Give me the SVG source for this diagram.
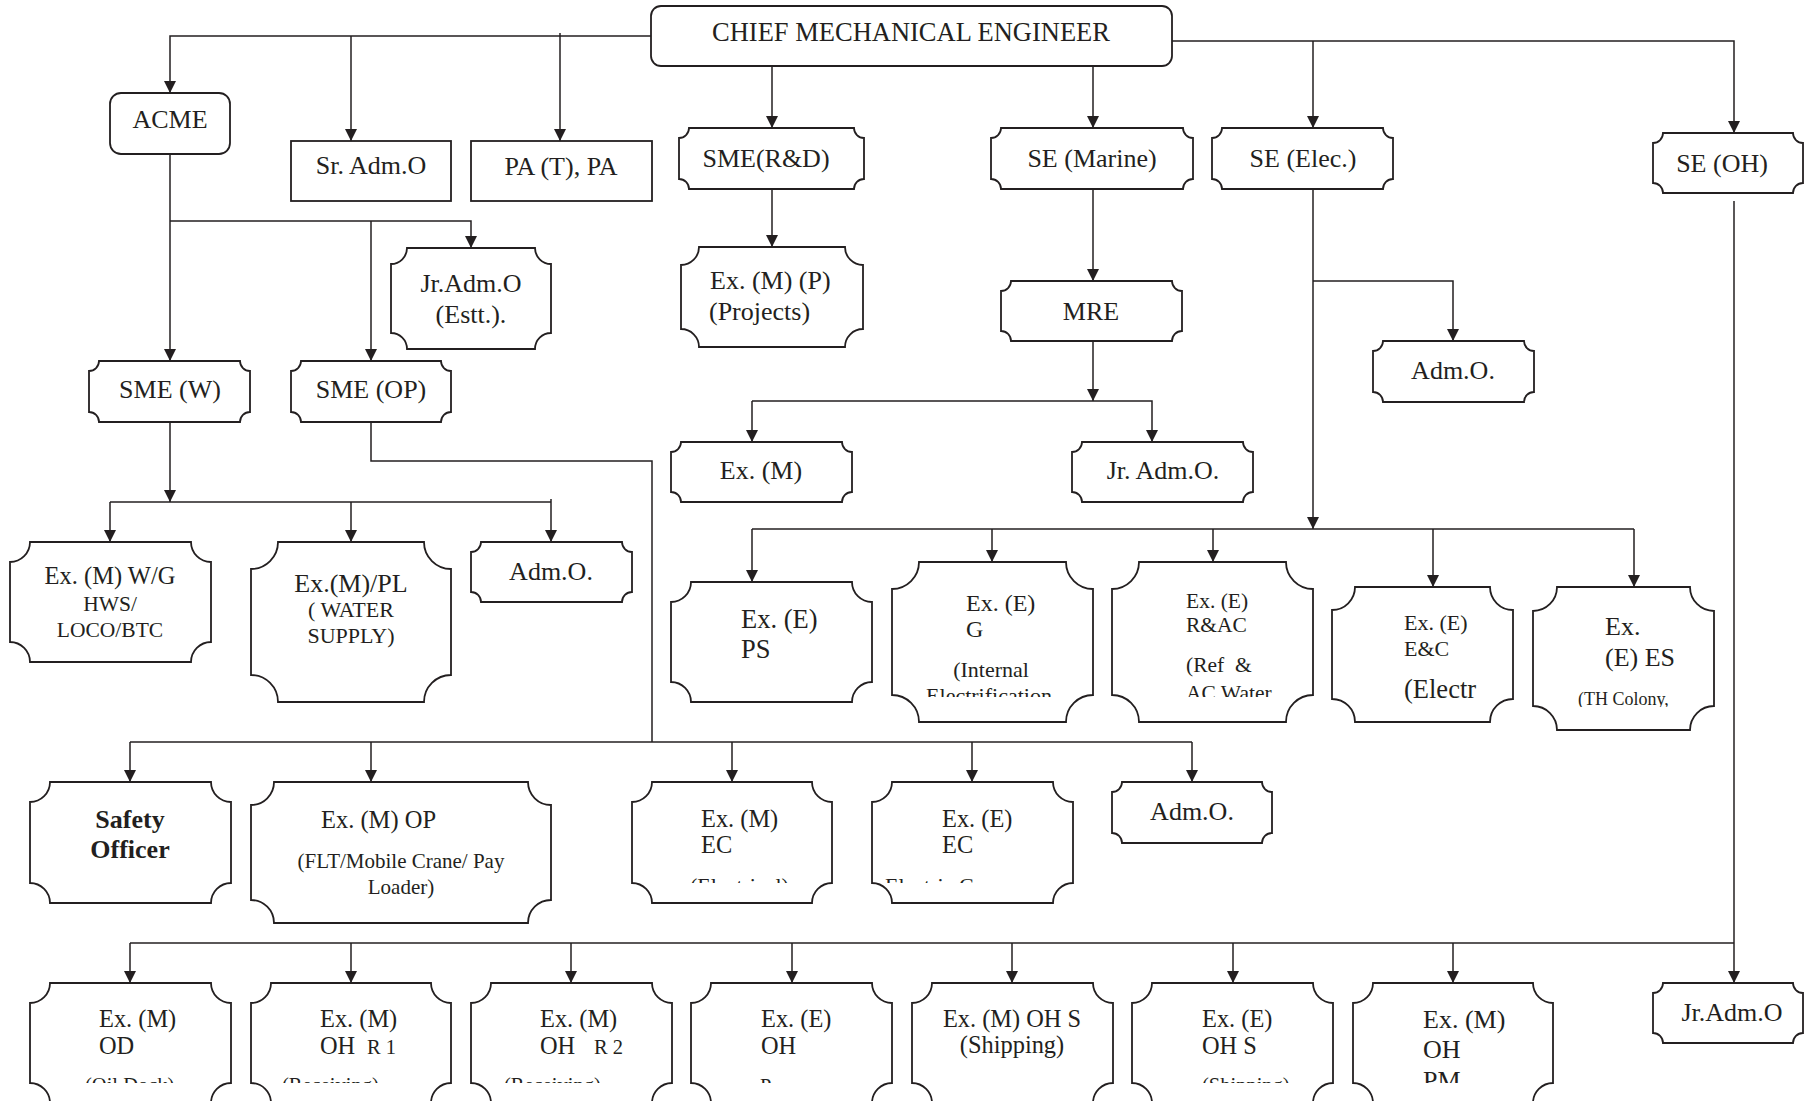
<svg xmlns="http://www.w3.org/2000/svg" width="1805" height="1101" viewBox="0 0 1805 1101">
<style>
.box{fill:#fff;stroke:#231f20;stroke-width:1.8}
.ln{fill:none;stroke:#231f20;stroke-width:1.5}
.ar{marker-end:url(#arr)}
text{font-family:"Liberation Serif","Times New Roman",serif;fill:#231f20;font-size:26px}
.m{text-anchor:middle}
.s24{font-size:24.4px}
.s22{font-size:22px}
.s21{font-size:21px}
.s20{font-size:20.5px}
.s18{font-size:18px}
.b{font-weight:bold}
</style>
<defs>
<marker id="arr" markerUnits="userSpaceOnUse" markerWidth="12" markerHeight="12" refX="12" refY="6" orient="auto">
<path d="M0,0 L12,6 L0,12 Z" fill="#231f20"/>
</marker>
<clipPath id="cG" clipPathUnits="userSpaceOnUse"><rect x="0" y="0" width="1805" height="697"/></clipPath>
<clipPath id="cES" clipPathUnits="userSpaceOnUse"><rect x="0" y="0" width="1805" height="707"/></clipPath>
<clipPath id="cEC" clipPathUnits="userSpaceOnUse"><rect x="0" y="0" width="1805" height="883"/></clipPath>
<clipPath id="cB" clipPathUnits="userSpaceOnUse"><rect x="0" y="0" width="1805" height="1083"/></clipPath>
</defs>
<rect x="0" y="0" width="1805" height="1101" fill="#fff"/>

<g id="connectors">
<path class="ln ar" d="M651,36 H170 V93"/>
<path class="ln ar" d="M351,36 V141"/>
<path class="ln ar" d="M560,33 V141"/>
<path class="ln ar" d="M772,66 V128"/>
<path class="ln ar" d="M1093,66 V128"/>
<path class="ln ar" d="M1172,41 H1734 V133"/>
<path class="ln ar" d="M1313,41 V128"/>
<path class="ln ar" d="M170,154 V361"/>
<path class="ln ar" d="M170,221 H471 V248"/>
<path class="ln ar" d="M371,221 V361"/>
<path class="ln ar" d="M772,189 V247"/>
<path class="ln ar" d="M1093,189 V281"/>
<path class="ln ar" d="M1093,341 V401"/>
<path class="ln ar" d="M752,401 V442"/>
<path class="ln ar" d="M752,401 H1152 V442"/>
<path class="ln ar" d="M1313,189 V529"/>
<path class="ln ar" d="M1313,281 H1453 V341"/>
<path class="ln" d="M752,529 H1634"/>
<path class="ln ar" d="M752,529 V582"/>
<path class="ln ar" d="M992,529 V562"/>
<path class="ln ar" d="M1213,529 V562"/>
<path class="ln ar" d="M1433,529 V587"/>
<path class="ln ar" d="M1634,529 V587"/>
<path class="ln ar" d="M170,422 V502"/>
<path class="ln" d="M110,502 H551"/>
<path class="ln ar" d="M110,502 V542"/>
<path class="ln ar" d="M351,502 V542"/>
<path class="ln ar" d="M551,499 V542"/>
<path class="ln" d="M371,422 V461 H652 V742"/>
<path class="ln" d="M130,742 H1192"/>
<path class="ln ar" d="M130,742 V782"/>
<path class="ln ar" d="M371,742 V782"/>
<path class="ln ar" d="M732,742 V782"/>
<path class="ln ar" d="M972,742 V782"/>
<path class="ln ar" d="M1192,742 V782"/>
<path class="ln ar" d="M1734,201 V983"/>
<path class="ln" d="M130,943 H1734"/>
<path class="ln ar" d="M130,943 V983"/>
<path class="ln ar" d="M351,943 V983"/>
<path class="ln ar" d="M571,943 V983"/>
<path class="ln ar" d="M792,943 V983"/>
<path class="ln ar" d="M1012,943 V983"/>
<path class="ln ar" d="M1233,943 V983"/>
<path class="ln ar" d="M1453,943 V983"/>
</g>

<g id="cme">
<rect class="box" x="651" y="6" width="521" height="60" rx="10"/>
<text class="m" x="911" y="41" style="font-size:26.5px">CHIEF MECHANICAL ENGINEER</text>
</g>
<g id="acme">
<rect class="box" x="110" y="93" width="120" height="61" rx="11"/>
<text class="m" x="170" y="128">ACME</text>
</g>
<g id="sr-adm-o">
<rect class="box" x="291" y="141" width="160" height="60"/>
<text class="m" x="371" y="174">Sr. Adm.O</text>
</g>
<g id="pa">
<rect class="box" x="471" y="141" width="181" height="60"/>
<text class="m" x="561" y="175">PA (T), PA</text>
</g>
<g id="sme-rd">
<path class="box" d="M689,128 H854 A10,10 0 0 0 864,138 V179 A10,10 0 0 0 854,189 H689 A10,10 0 0 0 679,179 V138 A10,10 0 0 0 689,128 Z"/>
<text class="m" x="766" y="167">SME(R&amp;D)</text>
</g>
<g id="se-marine">
<path class="box" d="M1001,128 H1183 A10,10 0 0 0 1193,138 V179 A10,10 0 0 0 1183,189 H1001 A10,10 0 0 0 991,179 V138 A10,10 0 0 0 1001,128 Z"/>
<text class="m" x="1092" y="167">SE (Marine)</text>
</g>
<g id="se-elec">
<path class="box" d="M1222,128 H1383 A10,10 0 0 0 1393,138 V179 A10,10 0 0 0 1383,189 H1222 A10,10 0 0 0 1212,179 V138 A10,10 0 0 0 1222,128 Z"/>
<text class="m" x="1303" y="167">SE (Elec.)</text>
</g>
<g id="se-oh">
<path class="box" d="M1663,133 H1793 A10,10 0 0 0 1803,143 V183 A10,10 0 0 0 1793,193 H1663 A10,10 0 0 0 1653,183 V143 A10,10 0 0 0 1663,133 Z"/>
<text class="m" x="1722" y="172">SE (OH)</text>
</g>
<g id="jr-adm-estt">
<path class="box" d="M407,248 H535 A16,16 0 0 0 551,264 V333 A16,16 0 0 0 535,349 H407 A16,16 0 0 0 391,333 V264 A16,16 0 0 0 407,248 Z"/>
<text class="m" x="471" y="292">Jr.Adm.O</text>
<text class="m" x="471" y="323">(Estt.).</text>
</g>
<g id="ex-m-p">
<path class="box" d="M699,247 H845 A18,18 0 0 0 863,265 V329 A18,18 0 0 0 845,347 H699 A18,18 0 0 0 681,329 V265 A18,18 0 0 0 699,247 Z"/>
<text x="710" y="289">Ex. (M) (P)</text>
<text x="709" y="320">(Projects)</text>
</g>
<g id="mre">
<path class="box" d="M1011,281 H1172 A10,10 0 0 0 1182,291 V331 A10,10 0 0 0 1172,341 H1011 A10,10 0 0 0 1001,331 V291 A10,10 0 0 0 1011,281 Z"/>
<text class="m" x="1091" y="320">MRE</text>
</g>
<g id="sme-w">
<path class="box" d="M99,361 H240 A10,10 0 0 0 250,371 V412 A10,10 0 0 0 240,422 H99 A10,10 0 0 0 89,412 V371 A10,10 0 0 0 99,361 Z"/>
<text class="m" x="170" y="398">SME (W)</text>
</g>
<g id="sme-op">
<path class="box" d="M301,361 H441 A10,10 0 0 0 451,371 V412 A10,10 0 0 0 441,422 H301 A10,10 0 0 0 291,412 V371 A10,10 0 0 0 301,361 Z"/>
<text class="m" x="371" y="398">SME (OP)</text>
</g>
<g id="adm-o-elec">
<path class="box" d="M1383,341 H1524 A10,10 0 0 0 1534,351 V392 A10,10 0 0 0 1524,402 H1383 A10,10 0 0 0 1373,392 V351 A10,10 0 0 0 1383,341 Z"/>
<text class="m" x="1453" y="379">Adm.O.</text>
</g>
<g id="ex-m-marine">
<path class="box" d="M681,442 H842 A10,10 0 0 0 852,452 V492 A10,10 0 0 0 842,502 H681 A10,10 0 0 0 671,492 V452 A10,10 0 0 0 681,442 Z"/>
<text class="m" x="761" y="479">Ex. (M)</text>
</g>
<g id="jr-adm-marine">
<path class="box" d="M1082,442 H1243 A10,10 0 0 0 1253,452 V492 A10,10 0 0 0 1243,502 H1082 A10,10 0 0 0 1072,492 V452 A10,10 0 0 0 1082,442 Z"/>
<text class="m" x="1163" y="479">Jr. Adm.O.</text>
</g>
<g id="ex-m-wg">
<path class="box" d="M30,542 H191 A20,20 0 0 0 211,562 V642 A20,20 0 0 0 191,662 H30 A20,20 0 0 0 10,642 V562 A20,20 0 0 0 30,542 Z"/>
<text class="m" x="110" y="584" style="font-size:24.5px">Ex. (M) W/G</text>
<text class="m" x="110" y="611" style="font-size:21.5px">HWS/</text>
<text class="m" x="110" y="637" style="font-size:21.5px">LOCO/BTC</text>
</g>
<g id="ex-m-pl">
<path class="box" d="M278,542 H424 A27,27 0 0 0 451,569 V675 A27,27 0 0 0 424,702 H278 A27,27 0 0 0 251,675 V569 A27,27 0 0 0 278,542 Z"/>
<text class="m" x="351" y="592">Ex.(M)/PL</text>
<text class="m s22" x="351" y="617">( WATER</text>
<text class="m s22" x="351" y="643">SUPPLY)</text>
</g>
<g id="adm-o-w">
<path class="box" d="M481,542 H622 A10,10 0 0 0 632,552 V592 A10,10 0 0 0 622,602 H481 A10,10 0 0 0 471,592 V552 A10,10 0 0 0 481,542 Z"/>
<text class="m" x="551" y="580">Adm.O.</text>
</g>
<g id="ex-e-ps">
<path class="box" d="M691,582 H852 A20,20 0 0 0 872,602 V682 A20,20 0 0 0 852,702 H691 A20,20 0 0 0 671,682 V602 A20,20 0 0 0 691,582 Z"/>
<text x="741" y="628" style="font-size:26.5px">Ex. (E)</text>
<text x="741" y="658" style="font-size:26.5px">PS</text>
</g>
<g id="ex-e-g">
<path class="box" d="M919,562 H1066 A27,27 0 0 0 1093,589 V695 A27,27 0 0 0 1066,722 H919 A27,27 0 0 0 892,695 V589 A27,27 0 0 0 919,562 Z"/>
<text x="966" y="611" style="font-size:24px">Ex. (E)</text>
<text x="966" y="637" style="font-size:24px">G</text>
<text class="m s22" x="991" y="677">(Internal</text>
<text class="m s22" x="989" y="703" clip-path="url(#cG)">Electrification</text>
</g>
<g id="ex-e-rac">
<path class="box" d="M1139,562 H1286 A27,27 0 0 0 1313,589 V695 A27,27 0 0 0 1286,722 H1139 A27,27 0 0 0 1112,695 V589 A27,27 0 0 0 1139,562 Z"/>
<text x="1186" y="608" style="font-size:21.5px">Ex. (E)</text>
<text x="1186" y="632" style="font-size:21.5px">R&amp;AC</text>
<text x="1186" y="672" style="font-size:21.5px">(Ref &#160;&amp;</text>
<text x="1186" y="700" style="font-size:21.5px" clip-path="url(#cG)">AC Water</text>
</g>
<g id="ex-e-ec-elec">
<path class="box" d="M1355,587 H1490 A23,23 0 0 0 1513,610 V699 A23,23 0 0 0 1490,722 H1355 A23,23 0 0 0 1332,699 V610 A23,23 0 0 0 1355,587 Z"/>
<text class="s22" x="1404" y="630">Ex. (E)</text>
<text class="s22" x="1404" y="656">E&amp;C</text>
<text x="1404" y="698" style="font-size:26.5px">(Electr</text>
</g>
<g id="ex-e-es">
<path class="box" d="M1557,587 H1690 A24,24 0 0 0 1714,611 V706 A24,24 0 0 0 1690,730 H1557 A24,24 0 0 0 1533,706 V611 A24,24 0 0 0 1557,587 Z"/>
<text x="1605" y="635">Ex.</text>
<text x="1605" y="666">(E) ES</text>
<text class="s18" x="1578" y="705" clip-path="url(#cES)">(TH Colony,</text>
</g>
<g id="safety-officer">
<path class="box" d="M50,782 H211 A20,20 0 0 0 231,802 V883 A20,20 0 0 0 211,903 H50 A20,20 0 0 0 30,883 V802 A20,20 0 0 0 50,782 Z"/>
<text class="m b" x="130" y="828">Safety</text>
<text class="m b" x="130" y="858">Officer</text>
</g>
<g id="ex-m-op">
<path class="box" d="M274,782 H528 A23,23 0 0 0 551,805 V900 A23,23 0 0 0 528,923 H274 A23,23 0 0 0 251,900 V805 A23,23 0 0 0 274,782 Z"/>
<text x="321" y="828" style="font-size:24.5px">Ex. (M) OP</text>
<text class="m s21" x="401" y="868">(FLT/Mobile Crane/ Pay</text>
<text class="m s21" x="401" y="894">Loader)</text>
</g>
<g id="ex-m-ec">
<path class="box" d="M652,782 H812 A20,20 0 0 0 832,802 V883 A20,20 0 0 0 812,903 H652 A20,20 0 0 0 632,883 V802 A20,20 0 0 0 652,782 Z"/>
<text class="s24" x="701" y="827">Ex. (M)</text>
<text class="s24" x="701" y="853">EC</text>
<text class="s22" x="690" y="893" clip-path="url(#cEC)">(Electrical)</text>
</g>
<g id="ex-e-ec">
<path class="box" d="M892,782 H1053 A20,20 0 0 0 1073,802 V883 A20,20 0 0 0 1053,903 H892 A20,20 0 0 0 872,883 V802 A20,20 0 0 0 892,782 Z"/>
<text class="s24" x="942" y="827">Ex. (E)</text>
<text class="s24" x="942" y="853">EC</text>
<text class="s22" x="885" y="893" clip-path="url(#cEC)">Electric Cranes</text>
</g>
<g id="adm-o-op">
<path class="box" d="M1122,782 H1262 A10,10 0 0 0 1272,792 V833 A10,10 0 0 0 1262,843 H1122 A10,10 0 0 0 1112,833 V792 A10,10 0 0 0 1122,782 Z"/>
<text class="m" x="1192" y="820">Adm.O.</text>
</g>
<g id="ex-m-od">
<path class="box" d="M50,983 H211 A20,20 0 0 0 231,1003 V1083 A20,20 0 0 0 211,1103 H50 A20,20 0 0 0 30,1083 V1003 A20,20 0 0 0 50,983 Z"/>
<text class="s24" x="99" y="1027">Ex. (M)</text>
<text class="s24" x="99" y="1054">OD</text>
<text class="s20" x="85" y="1092" clip-path="url(#cB)">(Oil Dock)</text>
</g>
<g id="ex-m-oh-r1">
<path class="box" d="M271,983 H431 A20,20 0 0 0 451,1003 V1083 A20,20 0 0 0 431,1103 H271 A20,20 0 0 0 251,1083 V1003 A20,20 0 0 0 271,983 Z"/>
<text class="s24" x="320" y="1027">Ex. (M)</text>
<text class="s24" x="320" y="1054">OH</text>
<text class="s20" x="367" y="1054">R 1</text>
<text class="s20" x="282" y="1092" clip-path="url(#cB)">(Receiving)</text>
</g>
<g id="ex-m-oh-r2">
<path class="box" d="M491,983 H652 A20,20 0 0 0 672,1003 V1083 A20,20 0 0 0 652,1103 H491 A20,20 0 0 0 471,1083 V1003 A20,20 0 0 0 491,983 Z"/>
<text class="s24" x="540" y="1027">Ex. (M)</text>
<text class="s24" x="540" y="1054">OH</text>
<text class="s20" x="594" y="1054">R 2</text>
<text class="s20" x="504" y="1092" clip-path="url(#cB)">(Receiving)</text>
</g>
<g id="ex-e-oh">
<path class="box" d="M711,983 H872 A20,20 0 0 0 892,1003 V1083 A20,20 0 0 0 872,1103 H711 A20,20 0 0 0 691,1083 V1003 A20,20 0 0 0 711,983 Z"/>
<text class="s24" x="761" y="1027">Ex. (E)</text>
<text class="s24" x="761" y="1054">OH</text>
<text class="s20" x="760" y="1093" clip-path="url(#cB)">Power</text>
</g>
<g id="ex-m-oh-s">
<path class="box" d="M932,983 H1093 A20,20 0 0 0 1113,1003 V1083 A20,20 0 0 0 1093,1103 H932 A20,20 0 0 0 912,1083 V1003 A20,20 0 0 0 932,983 Z"/>
<text class="m s24" x="1012" y="1027">Ex. (M) OH S</text>
<text class="m s24" x="1012" y="1053">(Shipping)</text>
</g>
<g id="ex-e-oh-s">
<path class="box" d="M1152,983 H1313 A20,20 0 0 0 1333,1003 V1083 A20,20 0 0 0 1313,1103 H1152 A20,20 0 0 0 1132,1083 V1003 A20,20 0 0 0 1152,983 Z"/>
<text class="s24" x="1202" y="1027">Ex. (E)</text>
<text class="s24" x="1202" y="1054">OH S</text>
<text class="s20" x="1202" y="1092" clip-path="url(#cB)">(Shipping)</text>
</g>
<g id="ex-m-oh-pm">
<path class="box" d="M1373,983 H1533 A20,20 0 0 0 1553,1003 V1083 A20,20 0 0 0 1533,1103 H1373 A20,20 0 0 0 1353,1083 V1003 A20,20 0 0 0 1373,983 Z"/>
<text x="1423" y="1028">Ex. (M)</text>
<text x="1423" y="1058">OH</text>
<text x="1423" y="1089" clip-path="url(#cB)">PM</text>
</g>
<g id="jr-adm-oh">
<path class="box" d="M1663,983 H1793 A10,10 0 0 0 1803,993 V1033 A10,10 0 0 0 1793,1043 H1663 A10,10 0 0 0 1653,1033 V993 A10,10 0 0 0 1663,983 Z"/>
<text class="m" x="1732" y="1021">Jr.Adm.O</text>
</g>
</svg>
